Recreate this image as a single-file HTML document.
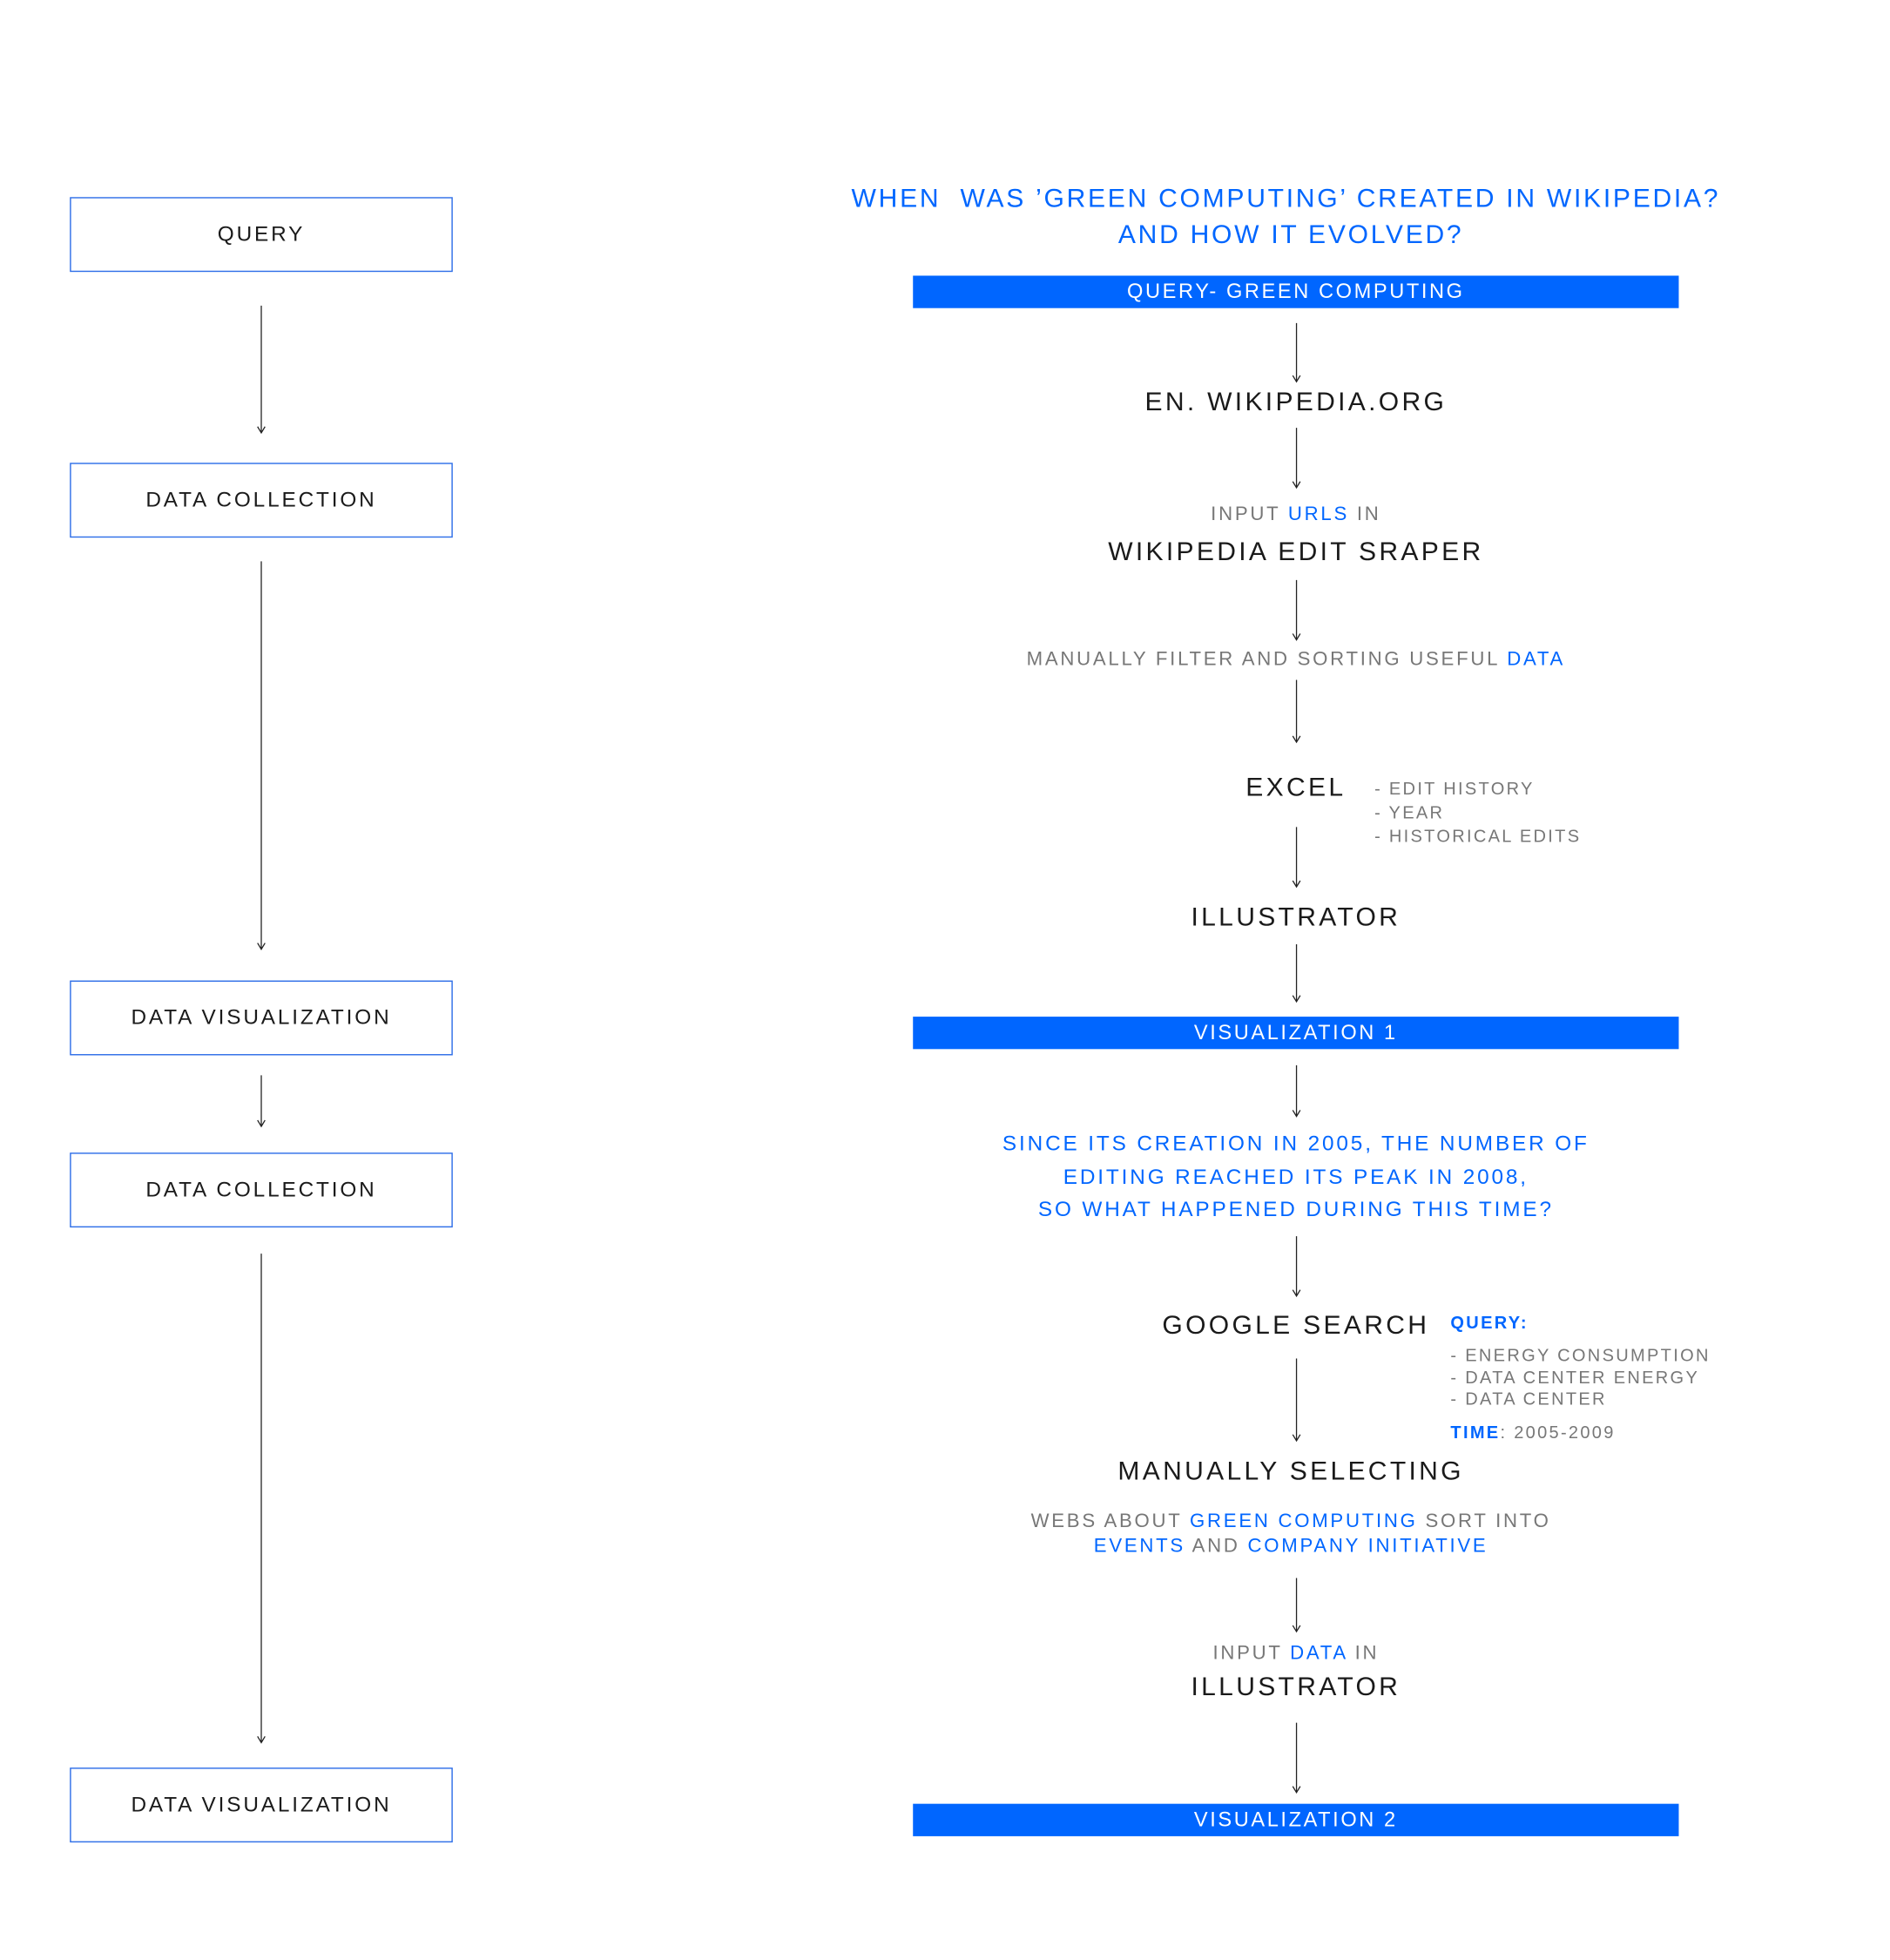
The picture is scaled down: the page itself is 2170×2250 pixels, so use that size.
<!DOCTYPE html>
<html><head><meta charset="utf-8"><style>
html,body{margin:0;padding:0;background:#fff;width:2170px;height:2243px;overflow:hidden}
#w{position:absolute;left:0;top:0;width:1520px;height:1571px;transform:scale(1.432);transform-origin:0 0;font-family:"Liberation Sans",sans-serif}
.t{position:absolute;left:539px;width:1000px;text-align:center;white-space:nowrap;color:#1a1a1a}
.b{position:absolute;left:56px;width:305px;height:58px;border:1px solid #2f6fe8;text-align:center;line-height:58px;font-size:17px;letter-spacing:2px;color:#1a1a1a;font-family:"Liberation Sans",sans-serif}
.bar{position:absolute;left:732px;width:614px;height:26px;background:#0066ff;color:#fff;text-align:center;line-height:27px;font-size:16.5px;letter-spacing:1.8px;font-family:"Liberation Sans",sans-serif}
.big{font-size:21px;letter-spacing:2.3px;font-family:"Liberation Sans",sans-serif}
.sm{font-size:15.5px;letter-spacing:1.9px;color:#777;font-family:"Liberation Sans",sans-serif}
.s{position:absolute;font-family:"Liberation Sans",sans-serif;font-size:14px;letter-spacing:1.6px;color:#777;white-space:nowrap}
.bl{color:#0066ff !important}
</style></head><body><div id="w">
<div class="b" style="top:158px">QUERY</div>
<div class="b" style="top:371px">DATA COLLECTION</div>
<div class="b" style="top:786px">DATA VISUALIZATION</div>
<div class="b" style="top:924px">DATA COLLECTION</div>
<div class="b" style="top:1417px">DATA VISUALIZATION</div>

<svg style="position:absolute;left:0;top:0" width="1520" height="1571">
<g stroke="#222" stroke-width="0.9" fill="none">
<path d="M209.5 245V347M206.5 342L209.5 347L212.5 342"/>
<path d="M209.5 450V761M206.5 756L209.5 761L212.5 756"/>
<path d="M209.5 862V903M206.5 898L209.5 903L212.5 898"/>
<path d="M209.5 1005V1397M206.5 1392L209.5 1397L212.5 1392"/>
<path d="M1039.5 259V306M1036.5 301L1039.5 306L1042.5 301"/>
<path d="M1039.5 343V391M1036.5 386L1039.5 391L1042.5 386"/>
<path d="M1039.5 465V513M1036.5 508L1039.5 513L1042.5 508"/>
<path d="M1039.5 545V595M1036.5 590L1039.5 595L1042.5 590"/>
<path d="M1039.5 663V711M1036.5 706L1039.5 711L1042.5 706"/>
<path d="M1039.5 757V803M1036.5 798L1039.5 803L1042.5 798"/>
<path d="M1039.5 854V895M1036.5 890L1039.5 895L1042.5 890"/>
<path d="M1039.5 991V1039M1036.5 1034L1039.5 1039L1042.5 1034"/>
<path d="M1039.5 1089V1155M1036.5 1150L1039.5 1155L1042.5 1150"/>
<path d="M1039.5 1265V1308M1036.5 1303L1039.5 1308L1042.5 1303"/>
<path d="M1039.5 1381V1437M1036.5 1432L1039.5 1437L1042.5 1432"/>
</g></svg>

<div class="t big bl" style="top:146px;line-height:28px;left:531px;letter-spacing:1.9px">WHEN &nbsp;WAS ’GREEN COMPUTING’ CREATED IN WIKIPEDIA?</div>
<div class="t big bl" style="top:175px;line-height:28px;left:535px;letter-spacing:1.9px">AND HOW IT EVOLVED?</div>
<div class="bar" style="top:221px">QUERY- GREEN COMPUTING</div>
<div class="t big" style="top:309px;line-height:28px">EN. WIKIPEDIA.ORG</div>
<div class="t sm" style="top:402px;line-height:22px">INPUT <span class="bl">URLS</span> IN</div>
<div class="t big" style="top:429px;line-height:28px">WIKIPEDIA EDIT SRAPER</div>
<div class="t sm" style="top:518px;line-height:22px">MANUALLY FILTER AND SORTING USEFUL <span class="bl">DATA</span></div>
<div class="t big" style="top:618px;line-height:28px">EXCEL</div>
<div class="s" style="left:1102px;top:623px;line-height:19px">- EDIT HISTORY<br>- YEAR<br>- HISTORICAL EDITS</div>
<div class="t big" style="top:722px;line-height:28px">ILLUSTRATOR</div>
<div class="bar" style="top:815px">VISUALIZATION 1</div>
<div class="t bl" style="top:904px;line-height:26.5px;font-size:17px;letter-spacing:2px">SINCE ITS CREATION IN 2005, THE NUMBER OF<br>EDITING REACHED ITS PEAK IN 2008,<br>SO WHAT HAPPENED DURING THIS TIME?</div>
<div class="t big" style="top:1049px;line-height:28px">GOOGLE SEARCH</div>
<div class="s bl" style="left:1163px;top:1051px;line-height:18px;font-weight:bold">QUERY:</div>
<div class="s" style="left:1163px;top:1078px;line-height:17.5px">- ENERGY CONSUMPTION<br>- DATA CENTER ENERGY<br>- DATA CENTER</div>
<div class="s" style="left:1163px;top:1139px;line-height:18px"><span class="bl" style="font-weight:bold">TIME</span>: 2005-2009</div>
<div class="t big" style="top:1166px;line-height:28px;left:535px">MANUALLY SELECTING</div>
<div class="t sm" style="top:1210px;line-height:19.5px;left:535px">WEBS ABOUT <span class="bl">GREEN COMPUTING</span> SORT INTO<br><span class="bl">EVENTS</span> AND <span class="bl">COMPANY INITIATIVE</span></div>
<div class="t sm" style="top:1315px;line-height:22px">INPUT <span class="bl">DATA</span> IN</div>
<div class="t big" style="top:1339px;line-height:28px">ILLUSTRATOR</div>
<div class="bar" style="top:1446px">VISUALIZATION 2</div>
</div></body></html>
